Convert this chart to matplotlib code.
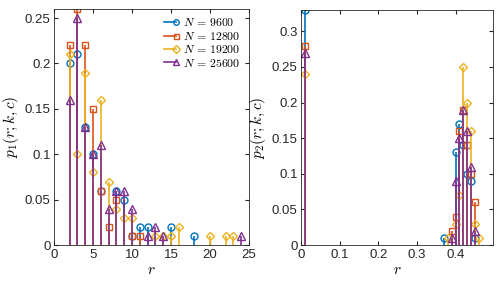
import numpy as np
import matplotlib
matplotlib.use('Agg')
import matplotlib.pyplot as plt
from matplotlib.lines import Line2D
from matplotlib.legend_handler import HandlerBase

plt.rcParams['font.family'] = ['Liberation Sans', 'DejaVu Sans']
plt.rcParams['mathtext.fontset'] = 'cm'

# MATLAB default colours
colors = ['#0072BD', '#D95319', '#EDB120', '#7E2F8E']
markers = ['o', 's', 'D', '^']
msizes = [5, 4.5, 4.5, 5.5]
labels = ['$N\\,=\\,9600$', '$N\\,=\\,12800$', '$N\\,=\\,19200$', '$N\\,=\\,25600$']

# p1(r;k,c), left panel
r1_9600 = [2, 3, 4, 5, 6, 8, 9, 10, 11, 12, 15, 18]
p1_9600 = [0.20, 0.21, 0.13, 0.10, 0.06, 0.06, 0.05, 0.01, 0.02, 0.02, 0.02, 0.01]
r1_12800 = [2, 3, 4, 5, 6, 7, 8, 10, 11]
p1_12800 = [0.22, 0.26, 0.22, 0.15, 0.06, 0.02, 0.05, 0.01, 0.01]
r1_19200 = [2, 3, 4, 5, 6, 7, 8, 9, 10, 13, 14, 15, 16, 20, 22, 23]
p1_19200 = [0.21, 0.10, 0.19, 0.08, 0.16, 0.07, 0.04, 0.03, 0.03, 0.01, 0.01, 0.01, 0.02, 0.01, 0.01, 0.01]
r1_25600 = [2, 3, 4, 5, 6, 7, 8, 9, 10, 12, 13, 14, 24]
p1_25600 = [0.16, 0.25, 0.13, 0.10, 0.11, 0.04, 0.06, 0.06, 0.04, 0.01, 0.02, 0.01, 0.01]

# p2(r;k,c), right panel
r2_9600 = [0.01, 0.37, 0.40, 0.41, 0.42, 0.43, 0.44, 0.45]
p2_9600 = [0.33, 0.01, 0.13, 0.17, 0.14, 0.10, 0.09, 0.01]
r2_12800 = [0.01, 0.39, 0.40, 0.41, 0.42, 0.43, 0.44, 0.45]
p2_12800 = [0.28, 0.02, 0.04, 0.16, 0.19, 0.14, 0.10, 0.06]
r2_19200 = [0.01, 0.38, 0.40, 0.41, 0.42, 0.43, 0.44, 0.45, 0.46]
p2_19200 = [0.24, 0.01, 0.03, 0.07, 0.25, 0.20, 0.16, 0.03, 0.01]
r2_25600 = [0.01, 0.39, 0.40, 0.41, 0.42, 0.43, 0.44, 0.45]
p2_25600 = [0.27, 0.01, 0.09, 0.15, 0.19, 0.16, 0.11, 0.02]

left_data = [(r1_9600, p1_9600), (r1_12800, p1_12800), (r1_19200, p1_19200), (r1_25600, p1_25600)]
right_data = [(r2_9600, p2_9600), (r2_12800, p2_12800), (r2_19200, p2_19200), (r2_25600, p2_25600)]


class HandlerStemLine(HandlerBase):
    # line with the marker at its right end, like matlab stem legends
    def create_artists(self, legend, orig_handle, xdescent, ydescent, width, height, fontsize, trans):
        y = height / 2 - ydescent
        x0, x1 = -xdescent, width - xdescent
        ln = Line2D([x0, x1], [y, y], color=orig_handle.get_color(), lw=orig_handle.get_linewidth())
        mk = Line2D([x1], [y], color=orig_handle.get_color(), marker=orig_handle.get_marker(),
                    mfc='none', ms=orig_handle.get_markersize() * 0.8,
                    mew=orig_handle.get_markeredgewidth(), ls='none')
        ln.set_transform(trans)
        mk.set_transform(trans)
        return [ln, mk]


def draw_stems(ax, data):
    handles = []
    for (x, y), c, m, ms, lab in zip(data, colors, markers, msizes, labels):
        ax.vlines(x, 0, y, color=c, lw=1.2)
        h, = ax.plot(x, y, ls='none', marker=m, ms=ms, mfc='none', mec=c, mew=1.0, color=c, label=lab)
        h.set_linewidth(1.2)
        handles.append(h)
    return handles


def style(ax):
    ax.tick_params(direction='in', top=True, right=True, labelsize=9.5, colors='#262626',
                   length=3, pad=2.5)
    for s in ax.spines.values():
        s.set_color('#262626')
        s.set_linewidth(0.6)


fig = plt.figure(figsize=(5.01, 2.82), dpi=100)
ax1 = fig.add_axes([0.108, 0.131, 0.389, 0.837])
ax2 = fig.add_axes([0.601, 0.131, 0.383, 0.834])

hs = draw_stems(ax1, left_data)
ax1.set_xlim(0, 25)
ax1.set_ylim(0, 0.26)
ax1.set_xticks([0, 5, 10, 15, 20, 25])
ax1.set_yticks([0, 0.05, 0.1, 0.15, 0.2, 0.25])
ax1.set_yticklabels(['0', '0.05', '0.1', '0.15', '0.2', '0.25'])
ax1.set_xlabel('$r$', fontsize=11, labelpad=2)
ax1.set_ylabel('$p_1(r;k,c)$', fontsize=11, labelpad=3)
style(ax1)
ax1.legend(handles=hs, loc='upper right', frameon=False, fontsize=8.5,
           handler_map={Line2D: HandlerStemLine()}, handlelength=1.0,
           handletextpad=0.6, labelspacing=0.12, borderaxespad=0.3)

draw_stems(ax2, right_data)
ax2.set_xlim(0, 0.497)
ax2.set_ylim(0, 0.33)
ax2.set_xticks([0, 0.1, 0.2, 0.3, 0.4])
ax2.set_xticklabels(['0', '0.1', '0.2', '0.3', '0.4'])
ax2.set_yticks([0, 0.05, 0.1, 0.15, 0.2, 0.25, 0.3])
ax2.set_yticklabels(['0', '0.05', '0.1', '0.15', '0.2', '0.25', '0.3'])
ax2.set_xlabel('$r$', fontsize=11, labelpad=2)
ax2.set_ylabel('$p_2(r;k,c)$', fontsize=11, labelpad=3)
style(ax2)

fig.savefig('out.png', dpi=100)
